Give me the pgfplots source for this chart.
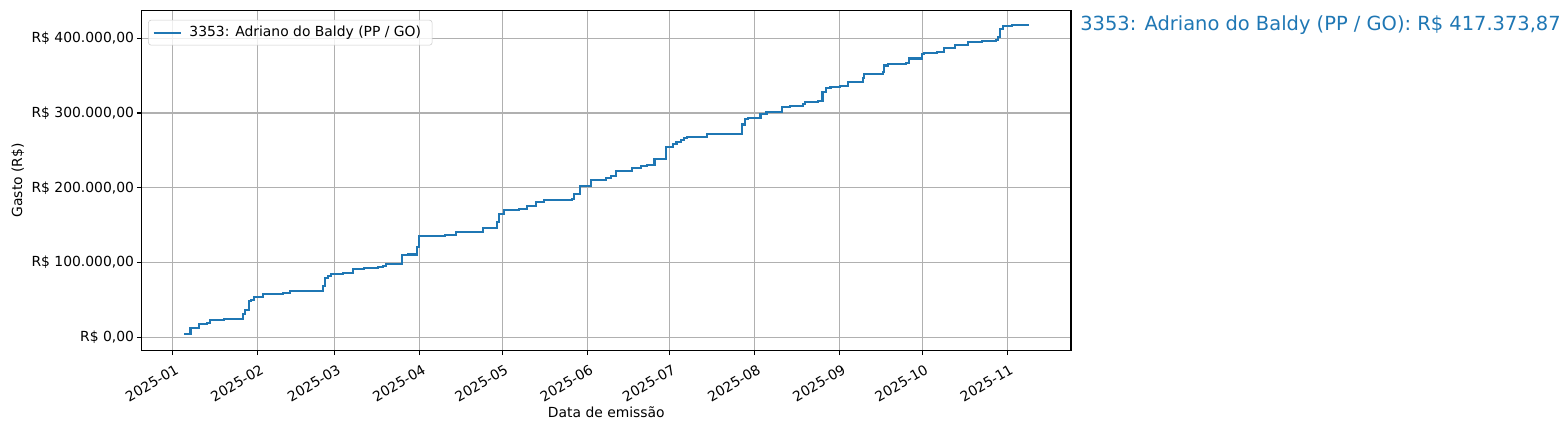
\documentclass[border=0pt]{standalone}
\usepackage{pgfplots}
\pgfplotsset{compat=1.18}
\usepackage{fontspec}
\setmainfont{DejaVu Sans}
\definecolor{tabblue}{HTML}{1F77B4}
\definecolor{gridgray}{HTML}{B0B0B0}
\begin{document}
\begin{tikzpicture}
\useasboundingbox (-102.0pt,-57.4pt) rectangle (1026.96pt,252.2pt);
\begin{axis}[
  at={(0,0)}, anchor=south west,
  scale only axis,
  width=669.1pt, height=244.8pt,
  xmin=-11.3, xmax=327.2,
  ymin=-17.4, ymax=437.5,
  axis line style={line width=0.8pt},
  tick align=outside,
  tick pos=left,
  major tick length=3.5pt,
  tick style={line width=0.8pt, black},
  grid=major,
  grid style={line width=0.8pt, gridgray},
  xtick={0,31,59,90,120,151,181,212,243,273,304},
  xticklabels={2025-01,2025-02,2025-03,2025-04,2025-05,2025-06,2025-07,2025-08,2025-09,2025-10,2025-11},
  xticklabel style={rotate=30, anchor=north east, font=\fontsize{10}{12}\selectfont, inner sep=1pt, yshift=-5pt, xshift=-1pt},
  ytick={0,100,200,300,400},
  yticklabels={R\$ 0{,}00,R\$ 100.000{,}00,R\$ 200.000{,}00,R\$ 300.000{,}00,R\$ 400.000{,}00},
  yticklabel style={font=\fontsize{10}{12}\selectfont, xshift=1.5pt},
  xlabel={Data de emissão},
  ylabel={Gasto (R\$)},
  xlabel style={font=\fontsize{10}{12}\selectfont, yshift=1.5pt},
  ylabel style={font=\fontsize{10}{12}\selectfont, yshift=-1.5pt},
  legend style={font=\fontsize{10}{12}\selectfont, draw=black!20, rounded corners=2pt, fill=white, fill opacity=0.8, text opacity=1, at={(0.007,0.972)}, anchor=north west, inner xsep=3pt, inner ysep=2.5pt},
  legend cell align=left,
  legend image code/.code={\draw[#1, const plot=false] (0pt,0pt) -- (20pt,0pt);},
  legend style={nodes={inner xsep=5pt}},
]
\addplot[const plot, color=tabblue, line width=1.5pt] coordinates {
(4.2,4.9) (6.5,12.4) (9.6,17.8) (12.4,19.6) (13.6,23.6) (18.7,24.4)
(25.6,31.1) (26.4,36.4) (27.8,48.0) (28.6,49.8) (29.6,53.8) (32.8,58.2)
(40.2,59.6) (42.7,61.3) (46.8,62.2) (54.7,68.4) (55.6,79.6) (56.5,81.8)
(57.5,84.9) (61.9,86.2) (65.6,91.1) (69.8,92.4) (74.8,93.8) (76.6,95.1)
(77.8,98.2) (83.6,109.8) (85.7,110.7) (89.0,120.9) (89.8,135.7) (99.1,137.3)
(103.2,140.9) (112.9,145.8) (114.1,146.7) (118.0,154.7) (119.0,165.0) (120.7,169.9)
(126.0,171.2) (129.0,176.1) (132.3,181.4) (135.1,183.6) (145.5,185.4) (146.1,192.1)
(148.4,202.4) (152.4,210.9) (157.9,212.7) (159.5,216.2) (161.5,222.9) (167.4,226.5)
(170.5,229.2) (172.7,230.1) (175.5,238.9) (179.6,255.0) (182.3,258.6) (183.5,261.3)
(185.0,264.4) (186.3,266.2) (187.5,267.6) (192.6,268.2) (194.6,272.2) (207.5,284.7)
(208.6,291.8) (209.7,293.6) (214.1,298.3) (216.3,301.8) (221.9,308.5) (224.8,309.8)
(229.7,311.6) (230.3,314.8) (234.9,316.6) (236.7,327.8) (237.9,333.9) (239.6,335.3)
(243.1,336.2) (246.0,341.5) (251.6,347.3) (251.9,352.6) (258.6,354.4) (259.0,363.6)
(260.4,365.0) (267.1,367.0) (268.3,373.0) (273.0,379.0) (273.7,380.8) (278.5,382.1)
(280.9,387.5) (285.1,390.6) (289.7,395.5) (294.8,396.8) (299.8,398.1) (300.6,401.7)
(301.4,412.9) (302.6,416.2) (305.8,417.37) (311.8,417.37)
};
\addlegendentry{3353: Adriano do Baldy (PP / GO)}
\end{axis}
\node[anchor=west, inner sep=0pt, text=tabblue, font=\fontsize{14}{17}\selectfont] at (675.6pt,234.2pt) {3353: Adriano do Baldy (PP / GO): R\$ 417.373,87};
\end{tikzpicture}
\end{document}
